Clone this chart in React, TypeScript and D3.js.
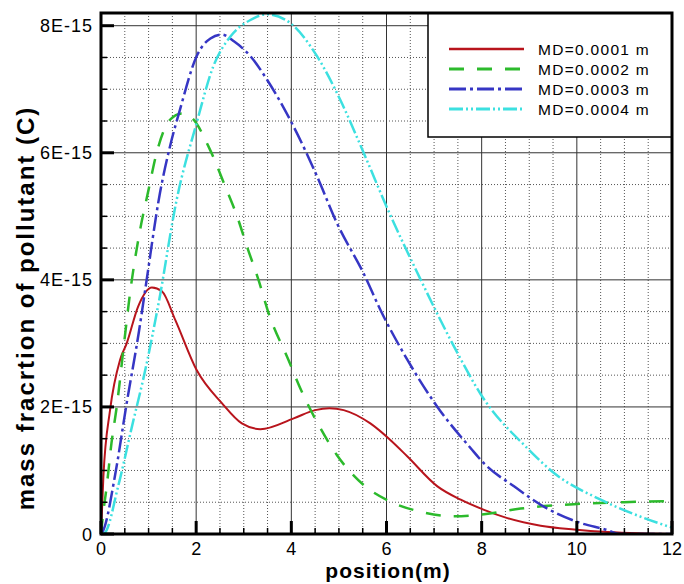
import React from "react";
import * as d3 from "d3";

const W = 684;
const H = 584;

// Data (x in m, value in units of 1E-15)
const redX = [0, 0.05, 0.19, 0.4, 0.54, 0.78, 1.07, 1.28, 1.56, 2.01, 2.54, 2.96, 3.35, 4.05, 4.5, 4.8, 5.1, 5.66, 6.08, 6.44, 7.07, 7.56, 8.05, 8.54, 9.24, 9.94, 10.65, 11.3, 12];
const redY = [0, 0.9, 1.95, 2.74, 3.0, 3.58, 3.88, 3.82, 3.37, 2.58, 2.06, 1.74, 1.65, 1.82, 1.95, 1.98, 1.95, 1.74, 1.48, 1.22, 0.75, 0.54, 0.38, 0.25, 0.13, 0.07, 0.03, 0.01, 0];

const greenX = [0, 0.05, 0.12, 0.22, 0.33, 0.5, 0.61, 0.8, 1.0, 1.17, 1.45, 1.7, 1.91, 2.29, 2.61, 2.86, 3.07, 3.31, 3.52, 3.94, 4.19, 4.57, 4.96, 5.52, 6.05, 6.72, 7.42, 8.05, 8.82, 9.94, 10.99, 12];
const greenY = [0, 0.35, 0.75, 1.43, 2.0, 3.1, 3.79, 4.7, 5.42, 6.0, 6.52, 6.62, 6.55, 6.05, 5.47, 5.0, 4.52, 4.0, 3.48, 2.74, 2.29, 1.72, 1.24, 0.77, 0.52, 0.35, 0.28, 0.31, 0.4, 0.47, 0.5, 0.52];

const blueX = [0, 0.05, 0.29, 0.54, 0.8, 0.93, 1.24, 1.45, 1.66, 2.01, 2.3, 2.54, 2.8, 3.14, 3.49, 4.05, 4.54, 4.96, 5.52, 5.87, 6.44, 7.07, 7.77, 8.05, 8.68, 9.38, 10.01, 10.65, 10.9, 12];
const blueY = [0, 0.06, 0.9, 2.06, 3.2, 3.85, 5.37, 6.1, 6.68, 7.52, 7.8, 7.86, 7.75, 7.52, 7.15, 6.41, 5.63, 4.89, 4.1, 3.53, 2.74, 2.0, 1.35, 1.11, 0.75, 0.4, 0.19, 0.06, 0, 0];

const cyanX = [0, 0.08, 0.36, 0.65, 0.93, 1.21, 1.59, 2.01, 2.36, 2.72, 3.14, 3.49, 3.98, 4.54, 5.03, 5.52, 6.02, 6.72, 7.49, 7.98, 8.96, 9.52, 10.5, 11.35, 12];
const cyanY = [0, 0.02, 0.75, 1.69, 2.58, 3.63, 5.26, 6.47, 7.36, 7.83, 8.09, 8.18, 8.04, 7.52, 6.83, 6.0, 5.12, 4.0, 2.85, 2.2, 1.35, 0.96, 0.54, 0.27, 0.1];

const seriesNames = ["MD=0.0001 m", "MD=0.0002 m", "MD=0.0003 m", "MD=0.0004 m"];
const seriesColors = ["#b8141c", "#2cba2c", "#3636c4", "#3ce0e0"];
const seriesDash = ["", "15,13", "17,4,3,4", "14,3,2,3,2,3"];

const xMajor = [0, 2, 4, 6, 8, 10, 12];
const xMinor = d3.range(0, 12.001, 0.5);
const yMajor = [0, 2e-15, 4e-15, 6e-15, 8e-15];
const yMajorLabels = ["0", "2E-15", "4E-15", "6E-15", "8E-15"];
const yMinor = d3.range(0, 8.2e-15, 0.5e-15);

const xTitle = "position(m)";
const yTitle = "mass fracrtion of pollutant (C)";

const FONT = "'Liberation Sans', Arial, sans-serif";

export default function App() {
  const left = 101, right = 672, top = 13, bottom = 534;
  const x = d3.scaleLinear().domain([0, 12]).range([left, right]);
  const y = d3.scaleLinear().domain([0, 8.2e-15]).range([bottom, top]);

  const series = [
    redX.map((v, i) => [v, redY[i] * 1e-15]),
    greenX.map((v, i) => [v, greenY[i] * 1e-15]),
    blueX.map((v, i) => [v, blueY[i] * 1e-15]),
    cyanX.map((v, i) => [v, cyanY[i] * 1e-15]),
  ];
  const line = d3
    .line<number[]>()
    .x((d) => x(d[0]))
    .y((d) => y(d[1]))
    .curve(d3.curveMonotoneX);

  const lgX = 428, lgY = top, lgW = right - 428, lgH = 124;

  return (
    <svg width={W} height={H} style={{ position: "absolute", left: 0, top: 0, background: "#fff" }}>
      <rect x={0} y={0} width={W} height={H} fill="#fff" />
      <defs>
        <clipPath id="plotclip">
          <rect x={left} y={top} width={right - left} height={bottom - top} />
        </clipPath>
      </defs>
      {/* minor grid */}
      {xMinor.filter((v) => v % 2 !== 0).map((v) => (
        <line key={"xm" + v} x1={x(v)} x2={x(v)} y1={top} y2={bottom} stroke="#555" strokeWidth={1} strokeDasharray="1,2" />
      ))}
      {yMinor.filter((v, i) => i % 4 !== 0).map((v) => (
        <line key={"ym" + v} x1={left} x2={right} y1={y(v)} y2={y(v)} stroke="#555" strokeWidth={1} strokeDasharray="1,2" />
      ))}
      {/* major grid */}
      {xMajor.slice(1, -1).map((v) => (
        <line key={"xg" + v} x1={x(v)} x2={x(v)} y1={top} y2={bottom} stroke="#333" strokeWidth={1} />
      ))}
      {yMajor.slice(1).map((v) => (
        <line key={"yg" + v} x1={left} x2={right} y1={y(v)} y2={y(v)} stroke="#333" strokeWidth={1} />
      ))}
      {/* curves */}
      <g clipPath="url(#plotclip)">
        {series.map((s, i) => (
          <path key={i} d={line(s) || ""} fill="none" stroke={seriesColors[i]} strokeWidth={i === 0 ? 2 : 2.5} strokeDasharray={seriesDash[i] || undefined} />
        ))}
      </g>
      {/* legend */}
      <rect x={lgX} y={lgY} width={lgW} height={lgH} fill="#fff" stroke="#000" strokeWidth={1.5} />
      {seriesNames.map((n, i) => {
        const yy = 49 + i * 20;
        return (
          <g key={n}>
            <line x1={449} x2={524} y1={yy} y2={yy} stroke={seriesColors[i]} strokeWidth={i === 0 ? 2.5 : 3} strokeDasharray={seriesDash[i] || undefined} />
            <text x={538} y={yy + 5.5} fontFamily={FONT} fontSize={15.5} letterSpacing={1.3} fill="#000">{n}</text>
          </g>
        );
      })}
      {/* ticks */}
      {xMinor.map((v) => {
        const major = v % 2 === 0;
        return <line key={"xt" + v} x1={x(v)} x2={x(v)} y1={bottom} y2={bottom - (major ? 13 : 6)} stroke="#000" strokeWidth={major ? 3 : 1.5} />;
      })}
      {yMinor.map((v, i) => {
        const major = i % 4 === 0;
        return <line key={"yt" + i} x1={left} x2={left + (major ? 13 : 6)} y1={y(v)} y2={y(v)} stroke="#000" strokeWidth={major ? 3 : 1.5} />;
      })}
      {/* frame */}
      <rect x={left} y={top} width={right - left} height={bottom - top} fill="none" stroke="#000" strokeWidth={3} />
      {/* tick labels */}
      {xMajor.map((v) => (
        <text key={"xl" + v} x={x(v)} y={555} textAnchor="middle" fontFamily={FONT} fontSize={18} fill="#000">{v}</text>
      ))}
      {yMajor.map((v, i) => (
        <text key={"yl" + i} x={93} y={y(v) + 6.5} textAnchor="end" fontFamily={FONT} fontSize={18} letterSpacing={1} fill="#000">{yMajorLabels[i]}</text>
      ))}
      {/* titles */}
      <text x={388} y={578} textAnchor="middle" fontFamily={FONT} fontSize={21} fontWeight="bold" letterSpacing={1} fill="#000">{xTitle}</text>
      <text transform={`translate(34,${308}) rotate(-90)`} textAnchor="middle" fontFamily={FONT} fontSize={24} fontWeight="bold" letterSpacing={2} fill="#000">{yTitle}</text>
    </svg>
  );
}
